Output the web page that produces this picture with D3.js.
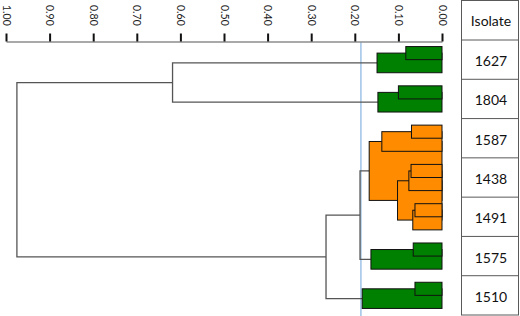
<!DOCTYPE html>
<html><head><meta charset="utf-8">
<script src="https://cdn.jsdelivr.net/npm/d3@7"></script>
<style>html,body{margin:0;padding:0;background:#fff;}svg{display:block;}</style>
</head><body>
<svg id="chart" width="520" height="316"></svg>
<script>
// ---- data ----
const isolates = ["1627", "1804", "1587", "1438", "1491", "1575", "1510"];
const headerLabel = "Isolate";
// 21 leaves, 3 per isolate; group of each leaf (coloured clusters)
const leafGroup = [0,0,0, 1,1,1, 2,2,2, 2,2,2, 2,2,2, 3,3,3, 4,4,4];
const groupColor = ["#008000", "#008000", "#ff8c00", "#008000", "#008000"];
// merges: [childA, childB, height]; new node ids start at 21
const merges = [
  [0, 1, 0.083],   // 21
  [21, 2, 0.149],  // 22
  [3, 4, 0.100],   // 23
  [23, 5, 0.147],  // 24
  [22, 24, 0.618], // 25
  [6, 7, 0.070],   // 26
  [26, 8, 0.138],  // 27
  [9, 10, 0.071],  // 28
  [28, 11, 0.076], // 29
  [12, 13, 0.062], // 30
  [30, 14, 0.067], // 31
  [29, 31, 0.102], // 32
  [27, 32, 0.167], // 33
  [15, 16, 0.066], // 34
  [34, 17, 0.163], // 35
  [33, 35, 0.188], // 36
  [18, 19, 0.062], // 37
  [37, 20, 0.183], // 38
  [36, 38, 0.266], // 39
  [25, 39, 0.975]  // 40
];
const cutHeight = 0.186;
const tickValues = [1.0, 0.9, 0.8, 0.7, 0.6, 0.5, 0.4, 0.3, 0.2, 0.1, 0.0];

// ---- layout ----
const svg = d3.select("#chart");
const x = d3.scaleLinear().domain([1, 0]).range([6, 442]);
const nLeaf = leafGroup.length;
const yLeaf = d3.scaleBand().domain(d3.range(nLeaf)).range([40, 315]);
const rowBand = d3.scaleBand().domain(isolates).range([40, 315]);

const nodes = [];
for (let i = 0; i < nLeaf; i++) nodes.push({id: i, h: 0, y: yLeaf(i) + yLeaf.bandwidth()/2, groups: new Set([leafGroup[i]])});
merges.forEach((m, k) => {
  const a = nodes[m[0]], b = nodes[m[1]];
  const g = new Set([...a.groups, ...b.groups]);
  nodes.push({id: nLeaf + k, h: m[2], a, b, y: (a.y + b.y) / 2, groups: g});
});
const internal = nodes.filter(n => n.a);
const filled = internal.filter(n => n.groups.size === 1).sort((p, q) => q.h - p.h);
const open = internal.filter(n => n.groups.size > 1);

// blue cut line
svg.append("line")
  .attr("x1", x(cutHeight)).attr("x2", x(cutHeight))
  .attr("y1", 42).attr("y2", 316)
  .attr("stroke", "#9dc3e6").attr("stroke-width", 1.5);

// open (elbow) links
const lg = svg.append("g").attr("fill", "none").attr("stroke", "#555").attr("stroke-width", 1.3);
open.forEach(n => {
  lg.append("path").attr("d",
    `M${x(n.a.h)},${n.a.y}H${x(n.h)}V${n.b.y}H${x(n.b.h)}`);
});

// filled clusters
svg.append("g").selectAll("rect").data(filled).join("rect")
  .attr("x", d => x(d.h))
  .attr("y", d => Math.min(d.a.y, d.b.y))
  .attr("width", d => x(0) - x(d.h))
  .attr("height", d => Math.abs(d.b.y - d.a.y))
  .attr("fill", d => groupColor[[...d.groups][0]])
  .attr("stroke", "#111").attr("stroke-width", 1);

// axis
const axisG = svg.append("g").attr("transform", "translate(0,41.5)")
  .call(d3.axisTop(x).tickValues(tickValues).tickFormat(d3.format(".2f")).tickSize(8).tickSizeOuter(0));
axisG.select(".domain").attr("stroke", "#8c8c8c").attr("stroke-width", 1.3);
axisG.selectAll(".tick line").attr("stroke", "#111").attr("stroke-width", 2);
axisG.selectAll(".tick text")
  .attr("transform", "rotate(90)")
  .attr("x", -36.5).attr("y", 0).attr("dy", null)
  .attr("text-anchor", "start").attr("dominant-baseline", "central")
  .attr("fill", "#222")
  .style("font-family", "Lato, 'Open Sans', sans-serif").style("font-size", "10.5px");

// table
const tx0 = 461.5, tx1 = 518.5;
const tg = svg.append("g");
tg.append("rect").attr("x", tx0).attr("y", 0.5).attr("width", tx1 - tx0).attr("height", 314.5)
  .attr("fill", "none").attr("stroke", "#595959").attr("stroke-width", 1);
tg.append("line").attr("x1", tx0).attr("x2", tx1).attr("y1", 40).attr("y2", 40)
  .attr("stroke", "#595959");
tg.selectAll("line.row").data(isolates.slice(1)).join("line").attr("class", "row")
  .attr("x1", tx0).attr("x2", tx1)
  .attr("y1", d => rowBand(d)).attr("y2", d => rowBand(d))
  .attr("stroke", "#595959");
const tfont = "Lato, 'Open Sans', sans-serif";
tg.append("text").attr("x", (tx0 + tx1) / 2 + 1).attr("y", 20.5)
  .attr("text-anchor", "middle").attr("dominant-baseline", "central")
  .style("font-family", tfont).style("font-size", "14px").attr("fill", "#111")
  .text(headerLabel);
tg.selectAll("text.iso").data(isolates).join("text").attr("class", "iso")
  .attr("x", (tx0 + tx1) / 2 + 1)
  .attr("y", d => rowBand(d) + rowBand.bandwidth() / 2 + 1)
  .attr("text-anchor", "middle").attr("dominant-baseline", "central")
  .style("font-family", tfont).style("font-size", "14px").attr("fill", "#111")
  .text(d => d);
</script>
</body></html>
